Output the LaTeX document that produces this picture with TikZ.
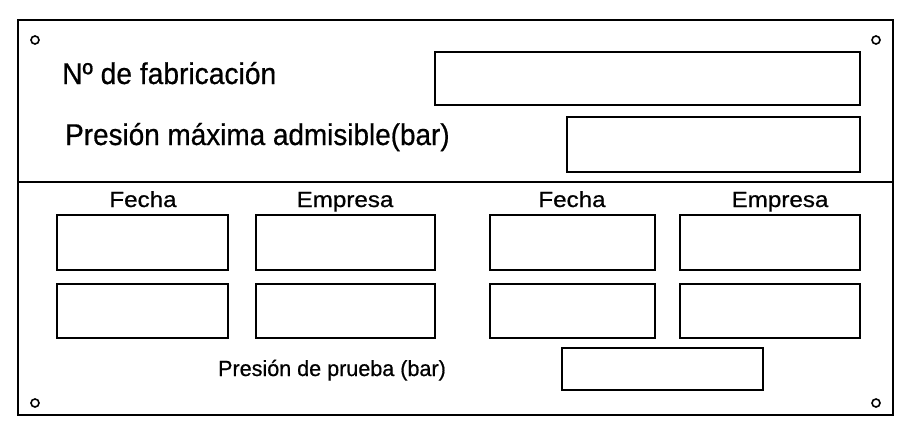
\documentclass[tikz,border=0pt]{standalone}
\usepackage{fontspec}
\setmainfont{Liberation Sans}[FakeBold=0.6]
\begin{document}
\begin{tikzpicture}[x=1pt,y=-1pt,
  bx/.style={draw,line width=1.6pt},
  hole/.style={draw,line width=1.6pt,circle,inner sep=0pt,minimum size=8pt},
  big/.style={anchor=base west,inner sep=0pt},
  hdr/.style={anchor=base,inner sep=0pt}]
\useasboundingbox (0,0) rectangle (912,434);
\draw[line width=1.6pt] (18,20) rectangle (893,415);
\draw[line width=1.6pt] (18,182) -- (893,182);
\node[hole] (h1) at (35,40) {};
\node[hole] (h2) at (876,40) {};
\node[hole] (h3) at (35,403) {};
\node[hole] (h4) at (876,403) {};
\node[big] (t1) at (62,84) {\scalebox{0.94}[1]{\fontsize{30}{30}\selectfont Nº de fabricación}};
\node[bx,minimum width=425pt,minimum height=53pt] (b1) at (647.5,78.5) {};
\node[big] (t2) at (65,145) {\scalebox{0.93}[1]{\fontsize{30}{30}\selectfont Presión máxima admisible(bar)}};
\node[bx,minimum width=293pt,minimum height=55pt] (b2) at (713.5,144.5) {};
\node[hdr] (f1) at (143,207) {\scalebox{1.1}[1]{\fontsize{22}{22}\selectfont Fecha}};
\node[hdr] (e1) at (345,207) {\scalebox{1.1}[1]{\fontsize{22}{22}\selectfont Empresa}};
\node[hdr] (f2) at (572,207) {\scalebox{1.1}[1]{\fontsize{22}{22}\selectfont Fecha}};
\node[hdr] (e2) at (780,207) {\scalebox{1.1}[1]{\fontsize{22}{22}\selectfont Empresa}};
\foreach \n/\a/\b in {a/57/228,b/256/435,c/490/655,d/680/860}{
  \draw[bx] (\a,215) rectangle (\b,270);
  \draw[bx] (\a,284) rectangle (\b,338);
}
\node[hdr] (tp) at (332,376) {\scalebox{0.98}[1]{\fontsize{22}{22}\selectfont Presión de prueba (bar)}};
\node[bx,minimum width=201pt,minimum height=42pt] (b3) at (662.5,369) {};
\end{tikzpicture}
\end{document}
